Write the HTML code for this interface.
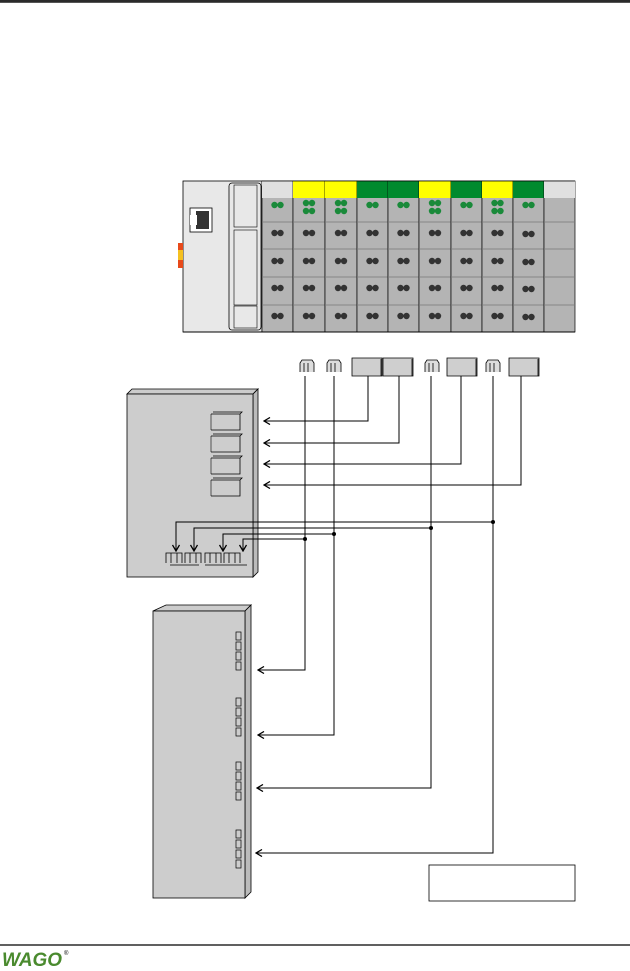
<!DOCTYPE html>
<html><head><meta charset="utf-8"><style>
html,body{margin:0;padding:0;background:#fff;width:630px;height:971px;overflow:hidden}
svg{display:block}
text{font-family:"Liberation Sans",sans-serif}
</style></head><body>
<svg id="s" width="630" height="971" viewBox="0 0 630 971" xmlns="http://www.w3.org/2000/svg">
<defs>
<marker id="ah" markerWidth="8" markerHeight="8" refX="7" refY="4" orient="auto" markerUnits="userSpaceOnUse">
<path d="M1,0.5 L7,4 L1,7.5" fill="none" stroke="#000" stroke-width="1.3"/>
</marker>
</defs>
<rect x="0" y="0" width="630" height="3" fill="#555"/>
<line x1="0" y1="1" x2="630" y2="1" stroke="#000" stroke-width="1"/>
<rect x="183" y="181" width="79" height="151" fill="#e8e8e8" stroke="#000" stroke-width="0.8"/>
<rect x="229" y="183" width="32" height="147" rx="3" fill="#e8e8e8" stroke="#000" stroke-width="0.8"/>
<rect x="234" y="185" width="23" height="42" fill="#e8e8e8" stroke="#000" stroke-width="0.6"/>
<rect x="234" y="230" width="23" height="75" fill="#e8e8e8" stroke="#000" stroke-width="0.6"/>
<rect x="234" y="306" width="23" height="22" fill="#e8e8e8" stroke="#000" stroke-width="0.6"/>
<rect x="190" y="208" width="22" height="24" fill="#fff" stroke="#000" stroke-width="0.8"/>
<rect x="196" y="211" width="13" height="18" fill="#333"/>
<rect x="190" y="215" width="7" height="10" fill="#fff"/>
<rect x="178" y="243" width="5" height="25" fill="#e84a1a"/>
<rect x="178" y="250" width="5" height="10" fill="#f5c020"/>
<g id="mods"></g>
<g id="conn"></g>
<polygon points="127,394 132,389 258,389 253,394" fill="#ccc" stroke="#000" stroke-width="0.8"/>
<polygon points="253,394 258,389 258,572 253,577" fill="#bbb" stroke="#000" stroke-width="0.8"/>
<rect x="127" y="394" width="126" height="183" fill="#cdcdcd" stroke="#000" stroke-width="0.8"/>
<polygon points="153,611 166,605 251,605 245,611" fill="#ccc" stroke="#000" stroke-width="0.8"/>
<polygon points="245,611 251,605 251,892 245,898" fill="#bbb" stroke="#000" stroke-width="0.8"/>
<rect x="153" y="611" width="92" height="287" fill="#cdcdcd" stroke="#000" stroke-width="0.8"/>
<g id="mid"></g>
<g fill="none" stroke="#000" stroke-width="1">
<polyline points="368,376 368,421 264,421" marker-end="url(#ah)"/>
<polyline points="399,376 399,443 264,443" marker-end="url(#ah)"/>
<polyline points="461,376 461,464 264,464" marker-end="url(#ah)"/>
<polyline points="521,376 521,485 264,485" marker-end="url(#ah)"/>
<polyline points="305,376 305,670 258,670" marker-end="url(#ah)"/>
<polyline points="334,376 334,735 258,735" marker-end="url(#ah)"/>
<polyline points="431,376 431,788 257,788" marker-end="url(#ah)"/>
<polyline points="493,376 493,853 256,853" marker-end="url(#ah)"/>
<polyline points="493,522 176,522 176,551" marker-end="url(#ah)"/>
<polyline points="431,528 194,528 194,551" marker-end="url(#ah)"/>
<polyline points="334,534 223,534 223,551" marker-end="url(#ah)"/>
<polyline points="305,539 243,539 243,551" marker-end="url(#ah)"/>
</g>
<g fill="#000"><circle cx="493" cy="522" r="2"/><circle cx="431" cy="528" r="2"/><circle cx="334" cy="534" r="2"/><circle cx="305" cy="539" r="2"/></g>
<rect x="429" y="865" width="146" height="36" fill="#fff" stroke="#000" stroke-width="0.8"/>
<line x1="0" y1="945" x2="630" y2="945" stroke="#000" stroke-width="1.3"/>
<text x="2" y="966" font-size="19" font-weight="bold" font-style="italic" fill="#4a8a2e" textLength="60" lengthAdjust="spacingAndGlyphs">WAGO</text>
<text x="64" y="955" font-size="6" fill="#000">®</text>
</svg>
<script>
var NS="http://www.w3.org/2000/svg";
function el(p,t,a){var e=document.createElementNS(NS,t);for(var k in a)e.setAttribute(k,a[k]);p.appendChild(e);return e;}
var m=document.getElementById("mods");
var xs=[262,293,325,357,388,419,451,482,513,544,575];
var hc=["#e0e0e0","#ffff00","#ffff00","#008a2e","#008a2e","#ffff00","#008a2e","#ffff00","#008a2e","#e0e0e0"];
var dbl=[0,1,1,0,0,1,0,1,0,-1];
for(var i=0;i<10;i++){
 var x=xs[i],w=xs[i+1]-x;
 el(m,"rect",{x:x,y:181,width:w,height:151,fill:"#b4b4b4",stroke:"#000","stroke-width":0.7});
 el(m,"rect",{x:x,y:181,width:w,height:17,fill:hc[i]});
 [222,249,277,305].forEach(function(y){el(m,"line",{x1:x,y1:y,x2:x+w,y2:y,stroke:"#777","stroke-width":0.8});});
 var cx=x+w/2;
 if(dbl[i]>=0){
  var gy=dbl[i]?203:205;
  el(m,"circle",{cx:cx-3,cy:gy,r:3.2,fill:"#1a8a3a"});el(m,"circle",{cx:cx+3,cy:gy,r:3.2,fill:"#1a8a3a"});
  if(dbl[i]){el(m,"circle",{cx:cx-3,cy:gy+8,r:3.2,fill:"#1a8a3a"});el(m,"circle",{cx:cx+3,cy:gy+8,r:3.2,fill:"#1a8a3a"});}
  var off=(i==8)?1:0;
  [233,261,288,316].forEach(function(y){el(m,"circle",{cx:cx-3,cy:y+off,r:3.2,fill:"#333"});el(m,"circle",{cx:cx+3,cy:y+off,r:3.2,fill:"#333"});});
 }
}
el(m,"line",{x1:262,y1:181,x2:575,y2:181,stroke:"#000","stroke-width":0.8});
el(m,"line",{x1:183,y1:332,x2:575,y2:332,stroke:"#000","stroke-width":1});
var c=document.getElementById("conn");
function small(x,y){el(c,"path",{d:"M"+x+","+(y+12)+" v-9 l2,-3 h10 l2,3 v9 M"+(x+4)+","+(y+12)+" v-9 M"+(x+8)+","+(y+12)+" v-9",fill:"#ddd",stroke:"#000","stroke-width":0.8});}
function big(x,y,w){el(c,"path",{d:"M"+x+","+y+" h"+w+" v18 h-"+w+" z",fill:"#cfcfcf",stroke:"#000","stroke-width":0.8});el(c,"line",{x1:x+w-1,y1:y+1,x2:x+w-1,y2:y+18,stroke:"#000","stroke-width":0.8});}
small(300,360);small(327,360);big(352,358,30);big(383,358,30);small(425,360);big(447,358,30);small(486,360);big(509,358,30);
var md=document.getElementById("mid");
[412,434,456,478].forEach(function(y){el(md,"path",{d:"M211,"+(y+18)+" h29 v-16 l2,-2 h-29 M240,"+(y+2)+" h-29",fill:"#cdcdcd",stroke:"#000","stroke-width":0.8});el(md,"line",{x1:211,y1:y+2,x2:211,y2:y+18,stroke:"#000","stroke-width":0.6});});
[166,185,205,224].forEach(function(x){el(md,"path",{d:"M"+x+",563 v-10 h16 v10 M"+(x+5)+",563 v-10 M"+(x+11)+",563 v-10",fill:"none",stroke:"#000","stroke-width":0.8});});
el(md,"line",{x1:170,y1:565,x2:199,y2:565,stroke:"#000","stroke-width":0.8});
el(md,"line",{x1:205,y1:565,x2:247,y2:565,stroke:"#000","stroke-width":0.8});
[632,698,762,830].forEach(function(y){for(var k=0;k<4;k++){el(md,"rect",{x:236,y:y+k*10,width:5,height:8,fill:"none",stroke:"#000","stroke-width":0.7});}});
</script>
</body></html>
